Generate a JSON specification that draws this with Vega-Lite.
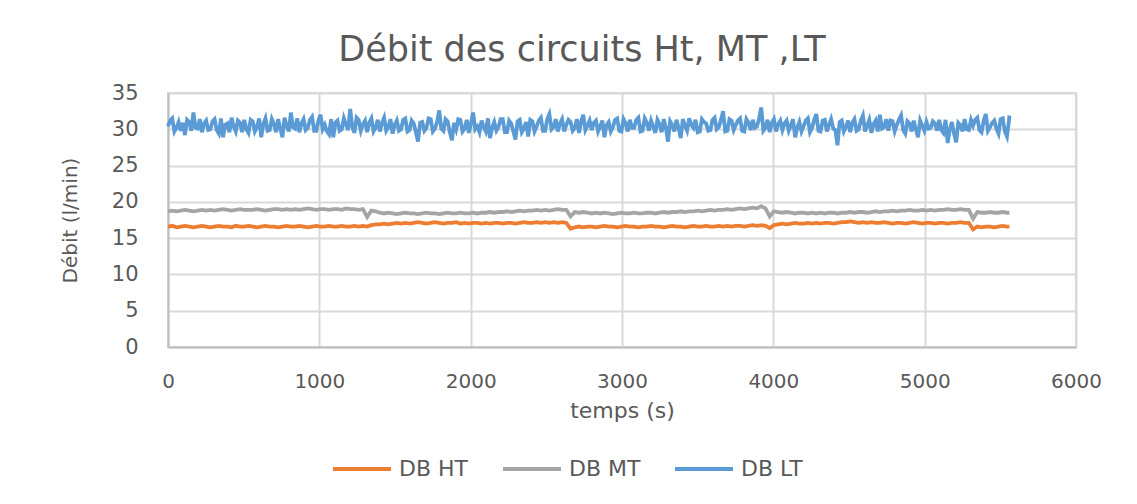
{
"$schema": "https://vega.github.io/schema/vega-lite/v6.json",
"width": 908, "height": 254,
"autosize": {"type": "none"},
"padding": {"left": 168, "top": 93, "right": 61, "bottom": 157},
"background": "white",
"title": {"text": "Débit des circuits Ht, MT ,LT", "fontSize": 35, "font": "DejaVu Sans", "fontWeight": "normal", "color": "#595959", "anchor": "middle", "offset": 14, "dx": -40},
"data": {"values": [
{"t":0,"HT":16.6,"MT":18.7,"LT":30.4},{"t":28,"HT":16.7,"MT":18.8,"LT":31.5},{"t":56,"HT":16.5,"MT":18.7,"LT":30.2},{"t":84,"HT":16.6,"MT":18.8,"LT":29.8},{"t":112,"HT":16.7,"MT":18.9,"LT":29.2},
{"t":140,"HT":16.6,"MT":18.8,"LT":31.0},{"t":168,"HT":16.5,"MT":18.7,"LT":32.3},{"t":196,"HT":16.6,"MT":18.8,"LT":30.1},{"t":224,"HT":16.7,"MT":18.9,"LT":29.6},{"t":252,"HT":16.6,"MT":18.8,"LT":31.2},
{"t":280,"HT":16.5,"MT":18.9,"LT":30.0},{"t":308,"HT":16.6,"MT":18.8,"LT":31.4},{"t":336,"HT":16.7,"MT":18.9,"LT":29.4},{"t":364,"HT":16.6,"MT":19.0,"LT":28.9},{"t":392,"HT":16.6,"MT":18.9,"LT":30.8},
{"t":420,"HT":16.5,"MT":18.8,"LT":31.6},{"t":448,"HT":16.7,"MT":18.9,"LT":29.7},{"t":476,"HT":16.6,"MT":19.0,"LT":30.9},{"t":504,"HT":16.6,"MT":18.9,"LT":31.3},{"t":532,"HT":16.7,"MT":18.9,"LT":29.5},
{"t":560,"HT":16.6,"MT":18.9,"LT":31.1},{"t":588,"HT":16.5,"MT":19.0,"LT":30.3},{"t":616,"HT":16.6,"MT":18.9,"LT":28.9},{"t":644,"HT":16.7,"MT":18.8,"LT":31.5},{"t":672,"HT":16.6,"MT":18.9,"LT":29.9},
{"t":700,"HT":16.6,"MT":19.0,"LT":30.7},{"t":728,"HT":16.5,"MT":19.0,"LT":31.4},{"t":756,"HT":16.6,"MT":18.9,"LT":28.9},{"t":784,"HT":16.7,"MT":19.0,"LT":30.5},{"t":812,"HT":16.6,"MT":18.9,"LT":32.3},
{"t":840,"HT":16.6,"MT":19.0,"LT":30.1},{"t":868,"HT":16.7,"MT":18.9,"LT":29.6},{"t":896,"HT":16.6,"MT":19.0,"LT":31.4},{"t":924,"HT":16.5,"MT":19.1,"LT":30.2},{"t":952,"HT":16.6,"MT":19.0,"LT":31.7},
{"t":980,"HT":16.7,"MT":18.9,"LT":29.8},{"t":1008,"HT":16.6,"MT":19.0,"LT":32.0},{"t":1036,"HT":16.6,"MT":19.0,"LT":30.6},{"t":1064,"HT":16.7,"MT":18.9,"LT":29.3},{"t":1092,"HT":16.6,"MT":19.0,"LT":28.9},
{"t":1120,"HT":16.6,"MT":19.0,"LT":31.2},{"t":1148,"HT":16.7,"MT":18.9,"LT":30.0},{"t":1176,"HT":16.6,"MT":19.1,"LT":30.6},{"t":1204,"HT":16.6,"MT":19.0,"LT":32.8},{"t":1232,"HT":16.7,"MT":19.0,"LT":29.5},
{"t":1260,"HT":16.6,"MT":18.9,"LT":31.3},{"t":1288,"HT":16.7,"MT":19.0,"LT":30.7},{"t":1316,"HT":16.6,"MT":17.9,"LT":29.6},{"t":1344,"HT":16.8,"MT":18.8,"LT":31.5},{"t":1372,"HT":16.9,"MT":18.7,"LT":30.2},
{"t":1400,"HT":16.9,"MT":18.5,"LT":29.7},{"t":1428,"HT":17.0,"MT":18.4,"LT":31.6},{"t":1456,"HT":16.9,"MT":18.5,"LT":30.3},{"t":1484,"HT":17.0,"MT":18.4,"LT":29.4},{"t":1512,"HT":17.1,"MT":18.3,"LT":31.2},
{"t":1540,"HT":17.0,"MT":18.4,"LT":30.0},{"t":1568,"HT":17.1,"MT":18.5,"LT":31.5},{"t":1596,"HT":17.0,"MT":18.4,"LT":29.9},{"t":1624,"HT":17.1,"MT":18.4,"LT":30.8},{"t":1652,"HT":17.2,"MT":18.3,"LT":28.3},
{"t":1680,"HT":17.1,"MT":18.4,"LT":31.0},{"t":1708,"HT":17.0,"MT":18.5,"LT":30.2},{"t":1736,"HT":17.1,"MT":18.4,"LT":31.4},{"t":1764,"HT":17.2,"MT":18.4,"LT":30.1},{"t":1792,"HT":17.1,"MT":18.3,"LT":32.6},
{"t":1820,"HT":17.0,"MT":18.4,"LT":29.8},{"t":1848,"HT":17.1,"MT":18.5,"LT":31.1},{"t":1876,"HT":17.1,"MT":18.4,"LT":28.5},{"t":1904,"HT":17.2,"MT":18.4,"LT":30.0},{"t":1932,"HT":17.0,"MT":18.5,"LT":31.3},
{"t":1960,"HT":17.1,"MT":18.4,"LT":30.1},{"t":1988,"HT":17.0,"MT":18.4,"LT":29.5},{"t":2016,"HT":17.1,"MT":18.5,"LT":32.3},{"t":2044,"HT":17.1,"MT":18.4,"LT":30.4},{"t":2072,"HT":17.0,"MT":18.5,"LT":31.2},
{"t":2100,"HT":17.1,"MT":18.5,"LT":29.7},{"t":2128,"HT":17.0,"MT":18.6,"LT":28.8},{"t":2156,"HT":17.1,"MT":18.5,"LT":31.0},{"t":2184,"HT":17.1,"MT":18.6,"LT":30.3},{"t":2212,"HT":17.0,"MT":18.6,"LT":31.4},
{"t":2240,"HT":17.1,"MT":18.7,"LT":29.6},{"t":2268,"HT":17.1,"MT":18.6,"LT":30.8},{"t":2296,"HT":17.0,"MT":18.7,"LT":28.6},{"t":2324,"HT":17.1,"MT":18.8,"LT":31.3},{"t":2352,"HT":17.2,"MT":18.7,"LT":30.1},
{"t":2380,"HT":17.1,"MT":18.8,"LT":29.0},{"t":2408,"HT":17.1,"MT":18.8,"LT":31.1},{"t":2436,"HT":17.2,"MT":18.9,"LT":30.4},{"t":2464,"HT":17.1,"MT":18.8,"LT":31.6},{"t":2492,"HT":17.2,"MT":18.9,"LT":29.8},
{"t":2520,"HT":17.1,"MT":18.8,"LT":32.1},{"t":2548,"HT":17.2,"MT":18.9,"LT":30.3},{"t":2576,"HT":17.1,"MT":19.0,"LT":29.7},{"t":2604,"HT":17.2,"MT":18.9,"LT":31.4},{"t":2632,"HT":17.1,"MT":18.9,"LT":30.6},
{"t":2660,"HT":16.3,"MT":18.0,"LT":31.0},{"t":2688,"HT":16.5,"MT":18.6,"LT":30.2},{"t":2716,"HT":16.6,"MT":18.5,"LT":29.5},{"t":2744,"HT":16.5,"MT":18.6,"LT":32.0},{"t":2772,"HT":16.6,"MT":18.5,"LT":30.5},
{"t":2800,"HT":16.6,"MT":18.4,"LT":29.9},{"t":2828,"HT":16.5,"MT":18.5,"LT":31.2},{"t":2856,"HT":16.6,"MT":18.4,"LT":30.4},{"t":2884,"HT":16.7,"MT":18.5,"LT":28.9},{"t":2912,"HT":16.6,"MT":18.4,"LT":31.0},
{"t":2940,"HT":16.6,"MT":18.3,"LT":30.3},{"t":2968,"HT":16.5,"MT":18.4,"LT":31.5},{"t":2996,"HT":16.6,"MT":18.5,"LT":29.7},{"t":3024,"HT":16.7,"MT":18.4,"LT":30.8},{"t":3052,"HT":16.6,"MT":18.4,"LT":31.3},
{"t":3080,"HT":16.6,"MT":18.5,"LT":30.2},{"t":3108,"HT":16.5,"MT":18.4,"LT":31.6},{"t":3136,"HT":16.6,"MT":18.4,"LT":29.8},{"t":3164,"HT":16.6,"MT":18.5,"LT":30.9},{"t":3192,"HT":16.7,"MT":18.5,"LT":31.2},
{"t":3220,"HT":16.6,"MT":18.4,"LT":29.5},{"t":3248,"HT":16.6,"MT":18.5,"LT":30.7},{"t":3276,"HT":16.5,"MT":18.6,"LT":31.4},{"t":3304,"HT":16.6,"MT":18.5,"LT":28.3},{"t":3332,"HT":16.7,"MT":18.6,"LT":30.6},
{"t":3360,"HT":16.6,"MT":18.6,"LT":31.3},{"t":3388,"HT":16.6,"MT":18.7,"LT":28.8},{"t":3416,"HT":16.5,"MT":18.6,"LT":30.5},{"t":3444,"HT":16.6,"MT":18.7,"LT":31.5},{"t":3472,"HT":16.7,"MT":18.7,"LT":30.2},
{"t":3500,"HT":16.6,"MT":18.8,"LT":29.6},{"t":3528,"HT":16.6,"MT":18.7,"LT":31.4},{"t":3556,"HT":16.7,"MT":18.8,"LT":30.8},{"t":3584,"HT":16.6,"MT":18.9,"LT":29.9},{"t":3612,"HT":16.6,"MT":18.8,"LT":31.6},
{"t":3640,"HT":16.7,"MT":18.9,"LT":30.3},{"t":3668,"HT":16.6,"MT":18.9,"LT":32.5},{"t":3696,"HT":16.7,"MT":19.0,"LT":29.8},{"t":3724,"HT":16.6,"MT":18.9,"LT":31.2},{"t":3752,"HT":16.7,"MT":19.0,"LT":30.6},
{"t":3780,"HT":16.7,"MT":19.1,"LT":31.5},{"t":3808,"HT":16.6,"MT":19.0,"LT":29.7},{"t":3836,"HT":16.7,"MT":19.1,"LT":30.9},{"t":3864,"HT":16.8,"MT":19.2,"LT":31.3},{"t":3892,"HT":16.7,"MT":19.1,"LT":30.4},
{"t":3920,"HT":16.8,"MT":19.4,"LT":33.0},{"t":3948,"HT":16.7,"MT":19.1,"LT":30.2},{"t":3976,"HT":16.4,"MT":18.0,"LT":29.6},{"t":4004,"HT":16.8,"MT":18.7,"LT":31.4},{"t":4032,"HT":16.9,"MT":18.6,"LT":30.7},
{"t":4060,"HT":17.0,"MT":18.5,"LT":29.9},{"t":4088,"HT":16.9,"MT":18.6,"LT":31.2},{"t":4116,"HT":17.0,"MT":18.5,"LT":30.5},{"t":4144,"HT":17.1,"MT":18.4,"LT":28.9},{"t":4172,"HT":17.0,"MT":18.5,"LT":31.0},
{"t":4200,"HT":17.0,"MT":18.5,"LT":30.4},{"t":4228,"HT":17.1,"MT":18.4,"LT":31.5},{"t":4256,"HT":17.0,"MT":18.5,"LT":30.2},{"t":4284,"HT":17.1,"MT":18.4,"LT":32.1},{"t":4312,"HT":17.0,"MT":18.5,"LT":29.7},
{"t":4340,"HT":17.1,"MT":18.4,"LT":31.3},{"t":4368,"HT":17.1,"MT":18.5,"LT":30.6},{"t":4396,"HT":17.0,"MT":18.5,"LT":30.1},{"t":4424,"HT":17.1,"MT":18.4,"LT":27.8},{"t":4452,"HT":17.2,"MT":18.5,"LT":31.2},
{"t":4480,"HT":17.2,"MT":18.5,"LT":30.3},{"t":4508,"HT":17.3,"MT":18.6,"LT":29.6},{"t":4536,"HT":17.2,"MT":18.5,"LT":31.4},{"t":4564,"HT":17.1,"MT":18.6,"LT":30.0},{"t":4592,"HT":17.2,"MT":18.6,"LT":31.9},
{"t":4620,"HT":17.1,"MT":18.5,"LT":30.5},{"t":4648,"HT":17.2,"MT":18.6,"LT":29.5},{"t":4676,"HT":17.1,"MT":18.7,"LT":31.2},{"t":4704,"HT":17.1,"MT":18.6,"LT":32.0},{"t":4732,"HT":17.2,"MT":18.7,"LT":30.3},
{"t":4760,"HT":17.1,"MT":18.7,"LT":29.8},{"t":4788,"HT":17.0,"MT":18.8,"LT":31.1},{"t":4816,"HT":17.1,"MT":18.7,"LT":30.6},{"t":4844,"HT":17.1,"MT":18.8,"LT":31.9},{"t":4872,"HT":17.0,"MT":18.8,"LT":29.4},
{"t":4900,"HT":17.1,"MT":18.9,"LT":30.8},{"t":4928,"HT":17.2,"MT":18.8,"LT":31.2},{"t":4956,"HT":17.1,"MT":18.8,"LT":28.9},{"t":4984,"HT":17.0,"MT":18.9,"LT":30.5},{"t":5012,"HT":17.1,"MT":18.8,"LT":31.0},
{"t":5040,"HT":17.1,"MT":18.9,"LT":30.2},{"t":5068,"HT":17.0,"MT":18.8,"LT":30.8},{"t":5096,"HT":17.1,"MT":18.9,"LT":31.3},{"t":5124,"HT":17.1,"MT":18.9,"LT":29.5},{"t":5152,"HT":17.0,"MT":19.0,"LT":28.1},
{"t":5180,"HT":17.1,"MT":18.9,"LT":31.0},{"t":5208,"HT":17.1,"MT":18.9,"LT":28.2},{"t":5236,"HT":17.2,"MT":19.0,"LT":30.6},{"t":5264,"HT":17.1,"MT":18.9,"LT":31.4},{"t":5292,"HT":17.1,"MT":18.9,"LT":29.9},
{"t":5320,"HT":16.2,"MT":17.7,"LT":30.5},{"t":5348,"HT":16.6,"MT":18.6,"LT":31.6},{"t":5376,"HT":16.5,"MT":18.5,"LT":29.6},{"t":5404,"HT":16.6,"MT":18.5,"LT":32.1},{"t":5432,"HT":16.6,"MT":18.6,"LT":30.3},
{"t":5460,"HT":16.5,"MT":18.5,"LT":31.2},{"t":5488,"HT":16.6,"MT":18.5,"LT":29.4},{"t":5516,"HT":16.7,"MT":18.6,"LT":31.5},{"t":5544,"HT":16.6,"MT":18.5,"LT":29.0},{"t":5560,"HT":16.6,"MT":18.5,"LT":31.9},
{"t":14,"LT":31.2},{"t":42,"LT":29.7},{"t":70,"LT":31.0},{"t":98,"LT":30.9},{"t":126,"LT":31.3},{"t":154,"LT":29.8},{"t":182,"LT":30.2},{"t":210,"LT":31.4},{"t":238,"LT":30.8},{"t":266,"LT":29.9},
{"t":294,"LT":31.1},{"t":322,"LT":29.9},{"t":350,"LT":31.5},{"t":378,"LT":30.6},{"t":406,"LT":29.6},{"t":434,"LT":30.4},{"t":462,"LT":31.2},{"t":490,"LT":29.6},{"t":518,"LT":30.0},{"t":546,"LT":31.3},
{"t":574,"LT":29.7},{"t":602,"LT":31.5},{"t":630,"LT":30.7},{"t":658,"LT":29.8},{"t":686,"LT":31.4},{"t":714,"LT":29.6},{"t":742,"LT":30.1},{"t":770,"LT":31.6},{"t":798,"LT":29.7},{"t":826,"LT":30.3},
{"t":854,"LT":31.5},{"t":882,"LT":30.8},{"t":910,"LT":29.9},{"t":938,"LT":31.3},{"t":966,"LT":29.8},{"t":994,"LT":31.2},{"t":1022,"LT":30.0},{"t":1050,"LT":29.7},{"t":1078,"LT":31.4},{"t":1106,"LT":30.9},
{"t":1134,"LT":29.8},{"t":1162,"LT":31.5},{"t":1190,"LT":29.9},{"t":1218,"LT":30.3},{"t":1246,"LT":31.6},{"t":1274,"LT":29.8},{"t":1302,"LT":31.2},{"t":1330,"LT":30.9},{"t":1358,"LT":29.7},{"t":1386,"LT":31.3},
{"t":1414,"LT":30.9},{"t":1442,"LT":29.8},{"t":1470,"LT":31.4},{"t":1498,"LT":30.6},{"t":1526,"LT":29.8},{"t":1554,"LT":31.3},{"t":1582,"LT":29.7},{"t":1610,"LT":31.2},{"t":1638,"LT":29.6},{"t":1666,"LT":30.9},
{"t":1694,"LT":29.8},{"t":1722,"LT":31.5},{"t":1750,"LT":29.7},{"t":1778,"LT":31.0},{"t":1806,"LT":30.1},{"t":1834,"LT":31.4},{"t":1862,"LT":29.6},{"t":1890,"LT":30.9},{"t":1918,"LT":31.4},{"t":1946,"LT":29.7},
{"t":1974,"LT":31.3},{"t":2002,"LT":30.8},{"t":2030,"LT":30.0},{"t":2058,"LT":29.6},{"t":2086,"LT":30.3},{"t":2114,"LT":31.5},{"t":2142,"LT":30.2},{"t":2170,"LT":29.8},{"t":2198,"LT":31.4},{"t":2226,"LT":29.6},
{"t":2254,"LT":31.2},{"t":2282,"LT":29.7},{"t":2310,"LT":31.1},{"t":2338,"LT":29.6},{"t":2366,"LT":31.0},{"t":2394,"LT":31.3},{"t":2422,"LT":29.7},{"t":2450,"LT":31.2},{"t":2478,"LT":29.8},{"t":2506,"LT":31.4},
{"t":2534,"LT":30.0},{"t":2562,"LT":31.4},{"t":2590,"LT":30.8},{"t":2618,"LT":29.7},{"t":2646,"LT":31.3},{"t":2674,"LT":29.8},{"t":2702,"LT":31.4},{"t":2730,"LT":31.1},{"t":2758,"LT":29.9},{"t":2786,"LT":31.2},
{"t":2814,"LT":30.9},{"t":2842,"LT":29.7},{"t":2870,"LT":31.2},{"t":2898,"LT":30.6},{"t":2926,"LT":29.7},{"t":2954,"LT":31.3},{"t":2982,"LT":29.8},{"t":3010,"LT":31.4},{"t":3038,"LT":29.7},{"t":3066,"LT":30.2},
{"t":3094,"LT":31.3},{"t":3122,"LT":29.7},{"t":3150,"LT":31.5},{"t":3178,"LT":29.8},{"t":3206,"LT":30.4},{"t":3234,"LT":31.3},{"t":3262,"LT":29.6},{"t":3290,"LT":30.2},{"t":3318,"LT":31.1},{"t":3346,"LT":29.7},
{"t":3374,"LT":30.2},{"t":3402,"LT":31.4},{"t":3430,"LT":29.8},{"t":3458,"LT":30.6},{"t":3486,"LT":31.3},{"t":3514,"LT":29.7},{"t":3542,"LT":31.0},{"t":3570,"LT":29.8},{"t":3598,"LT":31.3},{"t":3626,"LT":30.0},
{"t":3654,"LT":31.3},{"t":3682,"LT":29.7},{"t":3710,"LT":31.4},{"t":3738,"LT":29.9},{"t":3766,"LT":31.2},{"t":3794,"LT":29.8},{"t":3822,"LT":31.4},{"t":3850,"LT":29.9},{"t":3878,"LT":30.2},{"t":3906,"LT":31.5},
{"t":3934,"LT":29.8},{"t":3962,"LT":31.3},{"t":3990,"LT":30.9},{"t":4018,"LT":29.7},{"t":4046,"LT":31.2},{"t":4074,"LT":30.8},{"t":4102,"LT":29.8},{"t":4130,"LT":31.4},{"t":4158,"LT":30.2},{"t":4186,"LT":29.7},
{"t":4214,"LT":31.2},{"t":4242,"LT":29.6},{"t":4270,"LT":31.3},{"t":4298,"LT":29.8},{"t":4326,"LT":31.2},{"t":4354,"LT":29.7},{"t":4382,"LT":31.4},{"t":4410,"LT":29.9},{"t":4438,"LT":31.0},{"t":4466,"LT":29.7},
{"t":4494,"LT":31.2},{"t":4522,"LT":30.9},{"t":4550,"LT":29.8},{"t":4578,"LT":31.2},{"t":4606,"LT":29.7},{"t":4634,"LT":31.3},{"t":4662,"LT":30.7},{"t":4690,"LT":29.7},{"t":4718,"LT":30.1},{"t":4746,"LT":31.4},
{"t":4774,"LT":31.2},{"t":4802,"LT":29.7},{"t":4830,"LT":31.3},{"t":4858,"LT":29.9},{"t":4886,"LT":31.1},{"t":4914,"LT":29.7},{"t":4942,"LT":30.0},{"t":4970,"LT":31.2},{"t":4998,"LT":29.8},{"t":5026,"LT":30.1},
{"t":5054,"LT":31.1},{"t":5082,"LT":29.8},{"t":5110,"LT":29.9},{"t":5138,"LT":31.3},{"t":5166,"LT":30.0},{"t":5194,"LT":29.4},{"t":5222,"LT":30.9},{"t":5250,"LT":29.7},{"t":5278,"LT":30.0},{"t":5306,"LT":31.3},
{"t":5334,"LT":31.3},{"t":5362,"LT":29.9},{"t":5390,"LT":31.2},{"t":5418,"LT":29.8},{"t":5446,"LT":30.9},{"t":5474,"LT":30.1},{"t":5502,"LT":31.4},{"t":5530,"LT":29.7},{"t":5558,"LT":31.3}
]},
"transform": [{"fold": ["HT", "MT", "LT"], "as": ["serie", "debit"]}, {"filter": "isValid(datum.debit)"}],
"mark": {"type": "line"},
"encoding": {
  "x": {"field": "t", "type": "quantitative", "scale": {"domain": [0, 6000], "nice": false},
        "axis": {"title": "temps (s)", "values": [0, 1000, 2000, 3000, 4000, 5000, 6000], "format": "d", "labelPadding": 24, "titlePadding": 9, "labelFlush": false, "titleFontSize": 22}},
  "y": {"field": "debit", "type": "quantitative", "scale": {"domain": [0, 35], "nice": false},
        "axis": {"title": "Débit (l/min)", "values": [0, 5, 10, 15, 20, 25, 30, 35], "labelPadding": 30, "titlePadding": 31, "labelFontSize": 21}},
  "strokeWidth": {"field": "serie", "type": "nominal", "scale": {"domain": ["HT", "MT", "LT"], "range": [3.8, 3.8, 4.6]}, "legend": null},
  "color": {"field": "serie", "type": "nominal", "sort": ["HT", "MT", "LT"],
            "scale": {"domain": ["HT", "MT", "LT"], "range": ["#ED7D31", "#A5A5A5", "#5B9BD5"]},
            "legend": {"orient": "none", "legendX": 163, "legendY": 345, "direction": "horizontal", "title": null, "labelExpr": "'DB ' + datum.label", "symbolType": "stroke", "symbolSize": 3364, "symbolStrokeWidth": 3, "labelFontSize": 22, "labelFont": "DejaVu Sans", "labelColor": "#595959", "columnPadding": 26, "labelOffset": 6}}
},
"config": {
  "view": {"stroke": "#D9D9D9", "strokeWidth": 2},
  "axis": {"grid": true, "gridColor": "#D9D9D9", "gridWidth": 2, "ticks": false, "domain": true, "domainColor": "#BFBFBF", "domainWidth": 2,
           "labelFont": "DejaVu Sans", "labelFontSize": 20, "labelColor": "#595959", "titleFont": "DejaVu Sans", "titleFontSize": 20, "titleFontWeight": "normal", "titleColor": "#595959"}
}
}
